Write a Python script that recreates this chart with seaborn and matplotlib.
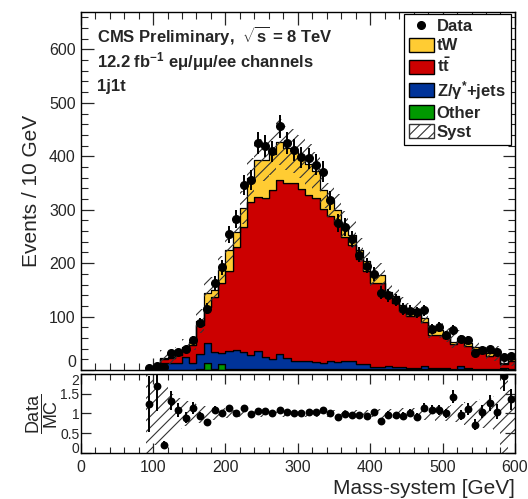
import numpy as np
import pandas as pd
import seaborn as sns
import matplotlib
matplotlib.use("Agg")
import matplotlib.pyplot as plt
from matplotlib.patches import Patch
from matplotlib.lines import Line2D
from matplotlib.ticker import MultipleLocator

# ---------------- data (bins of 10 GeV, from 90 to 600 GeV) ----------------
bin_edges = np.arange(90, 610, 10)

data_counts = [3, 7, 5, 31, 34, 39, 56, 88, 115, 163,
               192, 254, 283, 347, 356, 424, 420, 409, 456, 425,
               412, 398, 396, 384, 371, 318, 275, 268, 245, 216,
               195, 180, 145, 140, 131, 114, 111, 108, 112, 77,
               81, 65, 75, 58, 56, 31, 37, 39, 33, 25,
               27]

tw_counts = [0.3, 0.5, 1, 1.5, 2, 3, 5, 7, 27, 14,
             25, 40, 28, 36, 45, 70, 72, 68, 72, 65,
             60, 60, 58, 50, 36, 30, 25, 22, 20, 18,
             20, 12, 16, 10, 12, 10, 8, 10, 8, 6,
             8, 5, 5, 6, 5, 4, 4, 4, 3, 2,
             3]

tt_counts = [1.1, 1.5, 7, 8.5, 15, 17, 33, 55, 68, 102,
             131, 150, 193, 235, 287, 287, 297, 317, 325, 328,
             334, 322, 310, 307, 288, 272, 259, 233, 216, 196,
             173, 157, 156, 129, 120, 106, 99, 102, 82, 63,
             63, 57, 46, 47, 41, 37, 30, 25, 26, 9,
             15]

z_counts = [1, 2, 13.5, 13.5, 13.5, 23, 13, 29, 37, 33,
            20, 33, 35, 31, 26, 34, 22, 18, 28, 20,
            14, 15.5, 15, 12.5, 10.5, 15, 14, 15, 16, 10,
            10.5, 5, 5, 6, 5, 4, 2, 2, 6, 2,
            2, 2, 1, 6, 3, 1, 1, 1, 1, 2,
            1]

other_counts = [0, 0, 0.5, 0.5, 0.5, 0.5, 0.5, 1, 13, 1,
                12, 2, 2, 2, 2, 2, 2, 2, 2, 2,
                2, 2, 2, 2, 2, 1, 1, 1, 1, 1,
                1, 1, 1, 1, 1, 1, 1, 1, 1, 1,
                1, 1, 1, 1, 1, 1, 1, 1, 1, 1,
                1]

ratio_values = [1.23, 1.70, 0.21, 1.32, 1.09, 0.89, 1.13, 0.93, 0.79, 1.10,
                1.02, 1.13, 1.00, 1.15, 0.98, 1.07, 1.07, 1.02, 1.08, 1.03,
                1.02, 1.00, 1.04, 1.04, 1.10, 1.00, 0.92, 0.99, 0.97, 0.97,
                0.94, 1.04, 0.81, 0.97, 0.95, 0.94, 1.02, 0.92, 1.15, 1.10,
                1.09, 1.00, 1.43, 0.97, 1.11, 0.72, 1.05, 1.26, 1.05, 1.95,
                1.36]

# relative systematic uncertainty of the MC
syst_rel = [1.0, 0.8, 0.7, 0.5, 0.4, 0.32, 0.28, 0.24, 0.2, 0.16,
            0.13, 0.11, 0.1, 0.1, 0.1, 0.1, 0.1, 0.1, 0.1, 0.1,
            0.1, 0.1, 0.1, 0.1, 0.1, 0.1, 0.1, 0.1, 0.1, 0.1,
            0.1, 0.1, 0.12, 0.12, 0.12, 0.13, 0.14, 0.15, 0.16, 0.17,
            0.18, 0.2, 0.22, 0.25, 0.28, 0.32, 0.36, 0.4, 0.45, 1.0,
            0.6]

main_yticks = [0, 100, 200, 300, 400, 500, 600]
ratio_yticks = [0, 0.5, 1, 1.5, 2]
ratio_yticklabels = ["0", "0.5", "1", "1.5", "2"]

process_names = ["tW", "tt", "Z", "Other"]
process_colors = {"tW": "#FFCC33", "tt": "#CC0000", "Z": "#003399", "Other": "#009900"}

# ---------------- build tables ----------------
centers = (bin_edges[:-1] + bin_edges[1:]) / 2.0
rows = []
for name, vals in zip(process_names, [tw_counts, tt_counts, z_counts, other_counts]):
    for c, v in zip(centers, vals):
        rows.append({"mass": float(c), "events": float(v), "process": name})
mc = pd.DataFrame(rows)

total = (np.array(tw_counts) + np.array(tt_counts) + np.array(z_counts)
         + np.array(other_counts))
data_arr = np.array(data_counts, dtype=float)
ratio_arr = np.array(ratio_values)
syst_arr = np.array(syst_rel)

# ---------------- style ----------------
sns.set_theme(style="ticks")
plt.rcParams["font.family"] = ["Liberation Sans", "DejaVu Sans"]
plt.rcParams["mathtext.fontset"] = "custom"
plt.rcParams["mathtext.rm"] = "Liberation Sans"
plt.rcParams["mathtext.bf"] = "Liberation Sans:bold"
plt.rcParams["mathtext.it"] = "Liberation Sans:italic"
plt.rcParams["hatch.linewidth"] = 0.8

fig = plt.figure(figsize=(5.28, 4.99), dpi=100)
ax = fig.add_axes([0.1528, 0.2585, 0.8225, 0.7175])
rax = fig.add_axes([0.1528, 0.0922, 0.8225, 0.1583])

# ---------------- main panel ----------------
sns.histplot(data=mc, x="mass", weights="events", hue="process",
             hue_order=process_names, palette=process_colors,
             multiple="stack", bins=[float(b) for b in bin_edges], element="step",
             fill=True, alpha=1.0, edgecolor="black", linewidth=0.9,
             legend=False, ax=ax)

ax.stairs(total * (1 + syst_arr), bin_edges, baseline=total * (1 - syst_arr),
          fill=True, facecolor="none", edgecolor="0.2", hatch="///",
          linewidth=0, zorder=3)

ax.errorbar(centers, data_arr, yerr=np.sqrt(data_arr), fmt="o", color="black",
            ms=5.5, elinewidth=1.4, capsize=0, zorder=5)

ax.set_xlim(0, 600)
ax.set_ylim(0, 670)
ax.set_xlabel("")
ax.set_ylabel("Events / 10 GeV", fontsize=15, labelpad=6)
ax.xaxis.set_major_locator(MultipleLocator(100))
ax.xaxis.set_minor_locator(MultipleLocator(20))
ax.set_yticks(main_yticks)
ax.set_yticklabels([str(v) for v in main_yticks])
ax.yaxis.set_minor_locator(MultipleLocator(20))
ax.tick_params(axis="x", labelbottom=False)
ax.tick_params(which="both", direction="in", top=True, right=True, labelsize=11.5)
ax.tick_params(which="major", length=9, width=0.9)
ax.tick_params(which="minor", length=5, width=0.8)
for s in ax.spines.values():
    s.set_linewidth(1.0)
    s.set_color("black")
# keep the shared "0"/"2" corner labels apart
ax.get_yticklabels()[0].set_verticalalignment("bottom")

ax.text(0.037, 0.935, r"CMS Preliminary,  $\sqrt{\mathbf{s}}$ = 8 TeV",
        transform=ax.transAxes, fontsize=12, fontweight="bold", va="center")
ax.text(0.037, 0.862, r"12.2 fb$^{\mathbf{-1}}$ eμ/μμ/ee channels",
        transform=ax.transAxes, fontsize=12, fontweight="bold", va="center")
ax.text(0.037, 0.792, "1j1t", transform=ax.transAxes, fontsize=12,
        fontweight="bold", va="center")

handles = [
    Line2D([0], [0], marker="o", color="black", linestyle="none", markersize=5.5),
    Patch(facecolor=process_colors["tW"], edgecolor="black"),
    Patch(facecolor=process_colors["tt"], edgecolor="black"),
    Patch(facecolor=process_colors["Z"], edgecolor="black"),
    Patch(facecolor=process_colors["Other"], edgecolor="black"),
    Patch(facecolor="white", edgecolor="0.2", hatch="///"),
]
labels = ["Data", "tW", r"$\mathbf{t\bar{t}}$", r"Z/γ$^{\mathbf{*}}$+jets", "Other", "Syst"]
leg = ax.legend(handles, labels, loc="upper right", bbox_to_anchor=(0.99, 0.995),
                frameon=True, fancybox=False, edgecolor="black", framealpha=1,
                prop={"weight": "bold", "size": 12}, handlelength=1.5,
                handleheight=0.9, labelspacing=0.2, handletextpad=0.2,
                borderpad=0.3, borderaxespad=0.0)
leg.get_frame().set_linewidth(0.9)

# ---------------- ratio panel ----------------
rax.stairs(1 + syst_arr, bin_edges, baseline=1 - syst_arr, fill=True,
           facecolor="none", edgecolor="0.2", hatch="///", linewidth=0, zorder=2)
sns.scatterplot(x=centers, y=ratio_arr, color="black", s=32, edgecolor="black",
                linewidth=0, ax=rax, zorder=5)
rax.errorbar(centers, ratio_arr, yerr=ratio_arr / np.sqrt(data_arr), fmt="none",
             ecolor="black", elinewidth=1.4, capsize=0, zorder=4)
rax.set_xlim(0, 600)
rax.set_ylim(0, 2)
rax.xaxis.set_major_locator(MultipleLocator(100))
rax.xaxis.set_minor_locator(MultipleLocator(20))
rax.set_yticks(ratio_yticks)
rax.set_yticklabels(ratio_yticklabels)
rax.tick_params(which="both", direction="in", top=True, right=True)
rax.tick_params(axis="x", labelsize=11.5, pad=5)
rax.tick_params(axis="y", labelsize=10, pad=1)
rax.tick_params(which="major", length=7, width=0.9)
rax.tick_params(which="minor", length=4, width=0.8)
for s in rax.spines.values():
    s.set_linewidth(1.0)
    s.set_color("black")
rlabels = rax.get_yticklabels()
rlabels[0].set_verticalalignment("baseline")
rlabels[-1].set_verticalalignment("top")
rax.set_xlabel("Mass-system [GeV]", fontsize=15, loc="right", labelpad=3)
rax.set_ylabel(r"$\dfrac{\mathrm{Data}}{\mathrm{MC}}$", fontsize=13, labelpad=0)

fig.savefig("out.png", dpi=100)
